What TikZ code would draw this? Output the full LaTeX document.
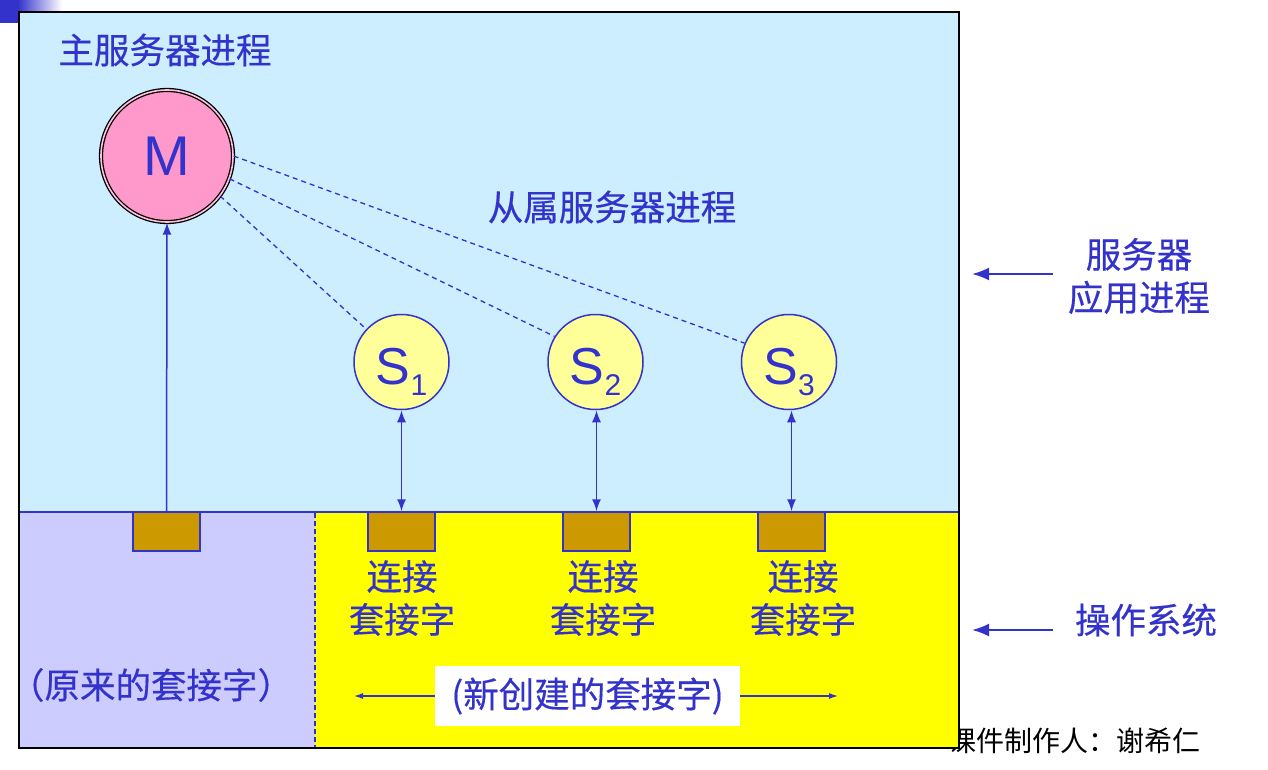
\documentclass[tikz,border=0pt]{standalone}
\usepackage{fontspec}
\setmainfont{Liberation Sans}
\newfontfamily\cjk[FakeBold=0.4]{Noto Sans CJK SC}
\newfontfamily\cjkthin{Noto Sans CJK SC}
\usetikzlibrary{arrows.meta}
\definecolor{bl}{HTML}{3333CC}
\definecolor{skyb}{HTML}{CCEEFF}
\definecolor{lav}{HTML}{CCCCFF}
\definecolor{yel}{HTML}{FFFF00}
\definecolor{brn}{HTML}{CC9900}
\definecolor{pnk}{HTML}{FF99CC}
\definecolor{lyel}{HTML}{FFFF99}
\begin{document}
\begin{tikzpicture}[x=1pt,y=-1pt,
  sock/.style={draw=bl, fill=brn, line width=1.5pt, minimum width=67pt, minimum height=39pt, inner sep=0pt},
  snode/.style={circle, draw=bl, fill=lyel, line width=1.5pt, minimum size=95pt, inner sep=0pt, text=bl, text height=50pt, text depth=6pt},
  lbl/.style={text=bl, font=\cjk\fontsize{35.5}{43}\selectfont, align=center, inner sep=0pt},
  arr/.style={draw=bl, line width=1.5pt, -{Latex[length=12pt,width=9pt]}},
  arrd/.style={draw=bl, line width=1.5pt, {Latex[length=12pt,width=9pt]}-{Latex[length=12pt,width=9pt]}},
  arrb/.style={draw=bl, line width=2pt, -{Latex[length=17pt,width=13pt]}},
  arrs/.style={draw=bl, line width=1.3pt, -{Latex[length=9pt,width=6pt]}},
  dsh/.style={draw=bl, line width=1.3pt, dash pattern=on 5pt off 4pt}]
\useasboundingbox (0,0) rectangle (1268,770);
% footer credit (partly hidden by frame)
\node[anchor=east, inner sep=0pt, font=\cjkthin\fontsize{28}{30}\selectfont] (credit) at (1201,741) {课件制作人：谢希仁};
% top-left decoration
\fill[bl] (0,0) rectangle (18,23);
\shade[left color=bl, right color=white] (18,0) rectangle (62,23);
% regions
\fill[skyb] (19,12) rectangle (959,512);
\fill[lav] (19,512) rectangle (315,748);
\fill[yel] (315,512) rectangle (959,748);
\draw[bl, line width=2pt] (19,512) -- (959,512);
\draw[bl, line width=1.5pt, dash pattern=on 5pt off 3pt] (315,513) -- (315,748);
\draw[black, line width=2.5pt] (19,12) rectangle (959,748);
% sockets
\node[sock] (k0) at (166.5,531.5) {};
\node[sock] (k1) at (401.5,531.5) {};
\node[sock] (k2) at (596.5,531.5) {};
\node[sock] (k3) at (791.5,531.5) {};
% processes
\node[circle, draw=black, line width=1.3pt, double=white!40!pnk, double distance=1.6pt, fill=pnk, minimum size=132pt, inner sep=0pt, text=bl, font=\fontsize{56}{56}\selectfont] (M) at (167,156) {M};
\node[snode] (S1) at (401.5,362) {\fontsize{52}{52}\selectfont S\raisebox{-11pt}{\fontsize{30}{30}\selectfont 1}};
\node[snode] (S2) at (595.5,362) {\fontsize{52}{52}\selectfont S\raisebox{-11pt}{\fontsize{30}{30}\selectfont 2}};
\node[snode] (S3) at (789,362) {\fontsize{52}{52}\selectfont S\raisebox{-11pt}{\fontsize{30}{30}\selectfont 3}};
% connectors
\draw[arr] (k0.north) -- (M.south);
\draw[arrd] (k1.north |- S1.south) -- (k1.north);
\draw[arrd] (k2.north |- S2.south) -- (k2.north);
\draw[arrd] (k3.north |- S3.south) -- (k3.north);
\draw[dsh] (M.-37) -- (S1.137);
\draw[dsh] (M.-20) -- (S2.148);
\draw[dsh] (M.0) -- (S3.157);
% labels
\node[lbl] (mlbl) at (165,50) {主服务器进程};
\node[lbl] (slbl) at (612,207) {从属服务器进程};
\node[lbl] (c1) at (402,598) {连接\\套接字};
\node[lbl] (c2) at (603,598) {连接\\套接字};
\node[lbl] (c3) at (803,598) {连接\\套接字};
\node[lbl] (old) at (151,685) {（原来的套接字）};
\node[lbl, fill=white, minimum width=305pt, minimum height=60pt] (new) at (587.5,696) {(新创建的套接字)};
\coordinate (nl) at (354,696);
\coordinate (nr) at (838,696);
\draw[arrs] (new.west) -- (nl);
\draw[arrs] (new.east) -- (nr);
\node[lbl] (app) at (1139,276) {服务器\\应用进程};
\node[lbl] (os) at (1146,620) {操作系统};
\coordinate (a1s) at (1053,274);
\coordinate (a1e) at (972,274);
\coordinate (a2s) at (1053,630);
\coordinate (a2e) at (972,630);
\draw[arrb] (a1s) -- (a1e);
\draw[arrb] (a2s) -- (a2e);
\end{tikzpicture}
\end{document}
